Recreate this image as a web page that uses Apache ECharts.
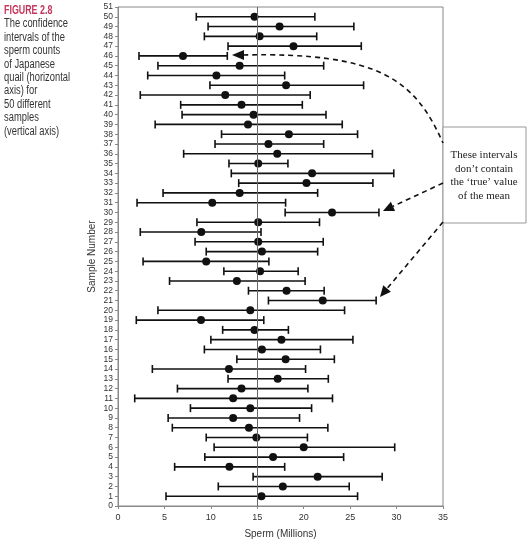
<!DOCTYPE html>
<html><head><meta charset="utf-8">
<script src="https://cdn.jsdelivr.net/npm/echarts@6/dist/echarts.min.js"></script>
<style>html,body{margin:0;padding:0;background:#fff}#c{width:529px;height:542px}</style>
</head><body><div id="c"></div>
<script>
// Sample numbers 1..50
const samples = [1,2,3,4,5,6,7,8,9,10,11,12,13,14,15,16,17,18,19,20,21,22,23,24,25,26,27,28,29,30,31,32,33,34,35,36,37,38,39,40,41,42,43,44,45,46,47,48,49,50];
const means = [15.45,17.75,21.5,12.0,16.7,20.0,14.9,14.1,12.4,14.25,12.4,13.3,17.2,11.95,18.05,15.5,17.6,14.7,8.94,14.25,22.05,18.15,12.8,15.3,9.5,15.5,15.1,8.97,15.1,23.05,10.15,13.1,20.3,20.9,15.1,17.15,16.2,18.4,14.0,14.6,13.3,11.55,18.1,10.6,13.1,7.0,18.9,15.25,17.4,14.7];
const lowers = [5.17,10.8,14.55,6.1,9.35,10.35,9.5,5.85,5.4,7.8,1.8,6.4,11.85,3.7,12.8,9.3,10.0,11.27,1.97,4.3,16.2,14.05,5.55,11.4,2.7,9.5,8.3,2.4,8.5,18.0,2.05,4.85,13.0,12.2,11.95,7.07,10.45,11.15,4.0,6.9,6.75,2.4,9.9,3.2,4.3,2.26,11.85,9.3,9.7,8.43];
const uppers = [25.8,24.9,28.45,17.95,24.3,29.8,20.4,22.6,19.55,20.85,23.1,20.45,22.65,20.2,23.3,21.8,25.3,18.35,15.7,24.4,27.8,22.2,20.15,19.4,16.25,21.5,22.1,15.4,21.7,28.1,18.05,21.5,27.45,29.7,18.3,27.4,22.15,25.8,24.15,22.4,19.85,20.7,26.45,17.95,22.15,11.77,26.2,21.4,25.4,21.2];
const trueMean = 15;
const captionTitle = 'FIGURE 2.8';
const captionLines = ['The confidence','intervals of the','sperm counts','of Japanese','quail (horizontal','axis) for','50 different','samples','(vertical axis)'];
const noteLines = ['These intervals','don\u2019t contain','the \u2018true\u2019 value','of the mean'];

const chart = echarts.init(document.getElementById('c'));
const ciData = samples.map((s,i)=>[lowers[i], uppers[i], s]);
const ptData = samples.map((s,i)=>[means[i], s]);

function arrow(x0,y0,tx,ty){
  const dx=tx-x0, dy=ty-y0, L=Math.hypot(dx,dy), ux=dx/L, uy=dy/L;
  const hl=11, hw=5;
  const bx=tx-ux*hl, by=ty-uy*hl;
  return [
    {type:'line',shape:{x1:x0,y1:y0,x2:bx,y2:by},style:{stroke:'#111',lineWidth:1.6,lineDash:[5,4]}},
    {type:'polygon',shape:{points:[[tx,ty],[bx-uy*hw,by+ux*hw],[bx+uy*hw,by-ux*hw]]},style:{fill:'#111'}}
  ];
}

const capFont = '"Liberation Sans",Arial,sans-serif';
const graphics = [];
graphics.push({type:'text',x:4,y:5,scaleX:0.74,style:{text:captionTitle,font:'bold 12px '+capFont,fill:'#c4365c'}});
captionLines.forEach((t,i)=>graphics.push({type:'text',x:4,y:18+i*13.4,scaleX:0.78,style:{text:t,font:'12px '+capFont,fill:'#333'}}));
graphics.push({type:'rect',shape:{x:443,y:127,width:83,height:96},style:{fill:'#fff',stroke:'#999',lineWidth:1}});
noteLines.forEach((t,i)=>graphics.push({type:'text',x:484,y:155+i*13.7,style:{text:t,font:'11px "Liberation Serif",serif',fill:'#222',align:'center',verticalAlign:'middle'}}));
// curved arrow to sample 46
graphics.push({type:'bezierCurve',shape:{x1:243,y1:55,cpx1:380,cpy1:52,cpx2:415,cpy2:80,x2:443,y2:143},style:{stroke:'#111',lineWidth:1.6,lineDash:[5,4],fill:null}});
graphics.push({type:'polygon',shape:{points:[[232,55],[244,50],[244,60]]},style:{fill:'#111'}});
arrow(443,183,383,211).forEach(g=>graphics.push(g));
arrow(443,222,380,297).forEach(g=>graphics.push(g));

chart.setOption({
  animation:false,
  backgroundColor:'#fff',
  grid:{left:118,right:86,top:7,bottom:36,show:true,borderColor:'#888',borderWidth:1,outerBoundsMode:'none',containLabel:false},
  xAxis:{type:'value',min:0,max:35,interval:5,
    name:'Sperm (Millions)',nameLocation:'middle',nameGap:23,nameMoveOverlap:false,
    nameTextStyle:{fontSize:10,color:'#333',fontFamily:'Liberation Sans'},
    axisLine:{show:true,onZero:false,lineStyle:{color:'#888'}},
    axisTick:{show:true,length:3,lineStyle:{color:'#888'}},
    axisLabel:{fontSize:9,color:'#333',margin:7,fontFamily:'Liberation Sans'},
    splitLine:{show:false}},
  yAxis:{type:'value',min:0,max:51,interval:1,
    name:'Sample Number',nameLocation:'middle',nameGap:21,nameMoveOverlap:false,
    nameTextStyle:{fontSize:10,color:'#333',fontFamily:'Liberation Sans'},
    axisLine:{show:true,lineStyle:{color:'#888'}},
    axisTick:{show:true,length:3,lineStyle:{color:'#888'}},
    axisLabel:{fontSize:8.5,color:'#333',margin:5,fontFamily:'Liberation Sans'},
    splitLine:{show:false}},
  series:[
    {type:'custom',data:ciData,z:3,
      renderItem:function(params,api){
        const a=api.coord([api.value(0),api.value(2)]);
        const b=api.coord([api.value(1),api.value(2)]);
        const h=4;
        const st={stroke:'#111',lineWidth:1.6};
        return {type:'group',children:[
          {type:'line',shape:{x1:a[0],y1:a[1],x2:b[0],y2:b[1]},style:st},
          {type:'line',shape:{x1:a[0],y1:a[1]-h,x2:a[0],y2:a[1]+h},style:st},
          {type:'line',shape:{x1:b[0],y1:b[1]-h,x2:b[0],y2:b[1]+h},style:st}
        ]};
      },
      encode:{x:[0,1],y:2},
      markLine:{silent:true,symbol:'none',label:{show:false},lineStyle:{color:'#666',width:1,type:'solid'},data:[{xAxis:trueMean}]}
    },
    {type:'scatter',data:ptData,symbol:'circle',symbolSize:8,z:4,itemStyle:{color:'#111',opacity:1}}
  ],
  graphic:graphics
});
</script></body></html>
